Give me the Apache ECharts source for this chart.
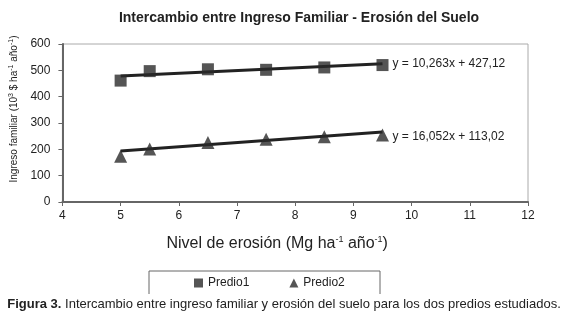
<!DOCTYPE html>
<html><head><meta charset="utf-8">
<script src="https://cdn.jsdelivr.net/npm/echarts@6/dist/echarts.min.js"></script>
<style>html,body{margin:0;padding:0;background:#fff}#c{width:568px;height:324px}</style>
</head><body><div id="c"></div>
<script>
var erosion = [5, 5.5, 6.5, 7.5, 8.5, 9.5];
var predio1 = [461, 497, 504, 502, 511, 520];
var predio2 = [174, 201, 226, 238, 248, 254];
var trendX = [5, 9.5];
var trend1 = [478.4, 524.6];
var trend2 = [193.3, 265.5];
var eq1 = 'y = 10,263x + 427,12';
var eq2 = 'y = 16,052x + 113,02';
var xTicks = [4, 5, 6, 7, 8, 9, 10, 11, 12];
var yTicks = [0, 100, 200, 300, 400, 500, 600];

var F = "'Liberation Sans Narrow','Liberation Sans',Arial,sans-serif";
function pairs(xs, ys){ return xs.map(function(x,i){return [x, ys[i]];}); }
var chart = echarts.init(document.getElementById('c'));
chart.setOption({
  animation: false,
  textStyle: {fontFamily: F},
  title: {text: 'Intercambio entre Ingreso Familiar - Erosión del Suelo', left: 294, textAlign: 'center', top: 6,
    textStyle: {fontFamily: "'Liberation Sans',Arial,sans-serif", fontWeight: 'bold', fontSize: 14, color: '#222'}},
  grid: {left: 62, right: 40, top: 44, bottom: 122, show: true, borderColor: '#aaa', borderWidth: 1},
  legend: {data: [{name:'Predio1', icon:'rect'}, {name:'Predio2', icon:'triangle'}], left: 189, top: 272,
    itemWidth: 9, itemHeight: 9, itemGap: 40, textStyle: {fontFamily: F, fontSize: 12, color: '#222'}},
  xAxis: {type: 'value', min: xTicks[0], max: xTicks[xTicks.length-1], interval: 1,
    name: 'Nivel de erosión (Mg ha{s|-1} año{s|-1})', nameLocation: 'middle', nameGap: 33,
    nameTextStyle: {fontFamily: "'Liberation Sans',Arial,sans-serif", fontSize: 16, color: '#222', padding:[0,36,0,0],
      rich: {s: {fontSize: 9, verticalAlign: 'top', padding: [0,0,8,0], color:'#222'}}},
    axisLine: {lineStyle: {color: '#666', width: 2}}, axisTick: {lineStyle: {color: '#666'}, length: 4},
    splitLine: {show: false}, axisLabel: {fontSize: 12, color: '#222', fontFamily: "'Liberation Sans',Arial,sans-serif", margin: 8}},
  yAxis: {type: 'value', min: yTicks[0], max: yTicks[yTicks.length-1], interval: 100,
    name: 'Ingreso familiar (10{s|3} $ ha{s|-1} año{s|-1})', nameLocation: 'middle', nameGap: 35, nameRotate: 90,
    nameTextStyle: {fontFamily: F, fontSize: 10, color: '#222', padding: [0,0,0,28], rich: {s: {fontSize: 7, verticalAlign:'top', padding:[0,0,6,0], color:'#222'}}},
    axisLine: {show: true, lineStyle: {color: '#666', width: 2}}, axisTick: {show: true, lineStyle: {color: '#666'}, length: 4},
    splitLine: {show: false}, axisLabel: {fontSize: 12, color: '#222', fontFamily: "'Liberation Sans',Arial,sans-serif", margin: 12}},
  graphic: [
    {type: 'polyline', shape: {points: [[149,294],[149,271],[380,271],[380,294]]}, style: {stroke: '#666', lineWidth: 1, fill: null}},
    {type: 'text', left: 'center', top: 298, style: {text: '{b|Figura 3.} Intercambio entre ingreso familiar y erosión del suelo para los dos predios estudiados.',
      fontFamily: F, fontSize: 13, fill: '#222',
      rich: {b: {fontFamily: F, fontSize: 13, fontWeight: 'bold', fill: '#222'}}}}
  ],
  series: [
    {name: 'trend1', type: 'line', data: pairs(trendX, trend1), symbol: 'none', lineStyle: {color: '#222', width: 3}, z: 2,
      endLabel: {show: true, formatter: eq1, fontSize: 12, color: '#222', fontFamily: F, distance: 10}},
    {name: 'trend2', type: 'line', data: pairs(trendX, trend2), symbol: 'none', lineStyle: {color: '#222', width: 3}, z: 2,
      endLabel: {show: true, formatter: eq2, fontSize: 12, color: '#222', fontFamily: F, distance: 10, offset: [0, 5]}},
    {name: 'Predio1', type: 'scatter', data: pairs(erosion, predio1), symbol: 'rect', symbolSize: 12, itemStyle: {color: '#2a2a2a'}, z: 3},
    {name: 'Predio2', type: 'scatter', data: pairs(erosion, predio2), symbol: 'triangle', symbolSize: 13, itemStyle: {color: '#2a2a2a'}, z: 3}
  ]
});
</script></body></html>
